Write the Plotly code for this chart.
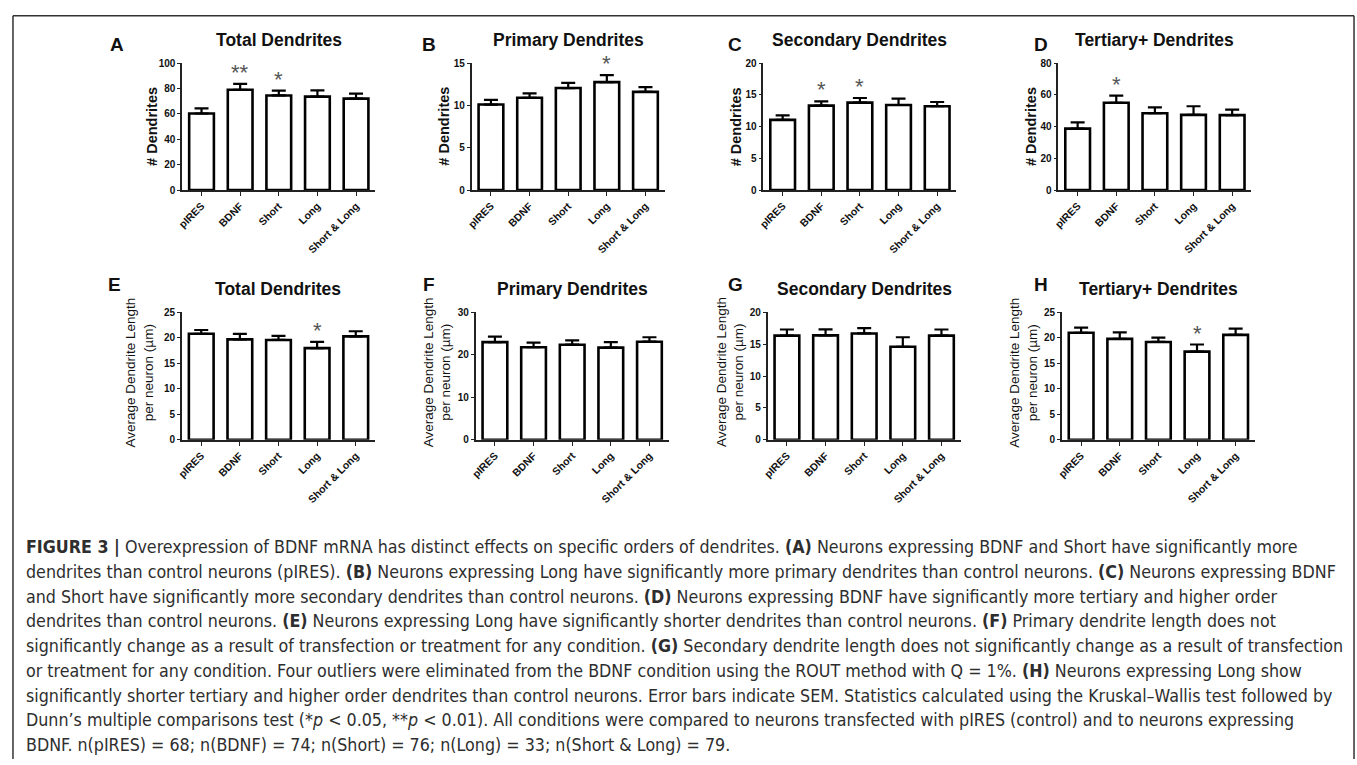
import plotly.graph_objects as go

# ---------------- data ----------------
categories = ["pIRES", "BDNF", "Short", "Long", "Short & Long"]

count_total = [60.3, 79.0, 74.5, 73.6, 72.0]
count_total_sem = [4.0, 4.7, 3.8, 4.9, 4.0]
count_total_stars = ["", "**", "*", "", ""]

count_primary = [10.1, 10.9, 12.05, 12.75, 11.6]
count_primary_sem = [0.56, 0.53, 0.62, 0.82, 0.57]
count_primary_stars = ["", "", "", "*", ""]

count_secondary = [11.05, 13.3, 13.77, 13.4, 13.2]
count_secondary_sem = [0.73, 0.67, 0.73, 1.0, 0.67]
count_secondary_stars = ["", "*", "*", "", ""]

count_tertiary = [38.7, 55.0, 48.4, 47.4, 47.2]
count_tertiary_sem = [3.9, 4.5, 3.7, 5.4, 3.5]
count_tertiary_stars = ["", "*", "", "", ""]

length_total = [20.8, 19.7, 19.6, 18.0, 20.3]
length_total_sem = [0.75, 1.07, 0.8, 1.2, 1.0]
length_total_stars = ["", "", "", "*", ""]

length_primary = [23.0, 21.8, 22.4, 21.7, 23.1]
length_primary_sem = [1.3, 1.1, 1.0, 1.3, 1.05]
length_primary_stars = ["", "", "", "", ""]

length_secondary = [16.35, 16.4, 16.7, 14.6, 16.35]
length_secondary_sem = [0.97, 0.95, 0.83, 1.5, 0.97]
length_secondary_stars = ["", "", "", "", ""]

length_tertiary = [21.0, 19.8, 19.2, 17.3, 20.6]
length_tertiary_sem = [1.0, 1.3, 0.85, 1.4, 1.2]
length_tertiary_stars = ["", "", "", "*", ""]

panel_letters = ["A", "B", "C", "D", "E", "F", "G", "H"]
panel_titles = ["Total Dendrites", "Primary Dendrites", "Secondary Dendrites", "Tertiary+ Dendrites",
                "Total Dendrites", "Primary Dendrites", "Secondary Dendrites", "Tertiary+ Dendrites"]
count_ytitle = "# Dendrites"
length_ytitle = "Average Dendrite Length<br>per neuron (µm)"
y_ranges = [(0, 100, 20), (0, 15, 5), (0, 20, 5), (0, 80, 20),
            (0, 25, 5), (0, 30, 10), (0, 20, 5), (0, 25, 5)]

caption_lines = [
    "<b>FIGURE 3 |</b> Overexpression of BDNF mRNA has distinct effects on specific orders of dendrites. <b>(A)</b> Neurons expressing BDNF and Short have significantly more",
    "dendrites than control neurons (pIRES). <b>(B)</b> Neurons expressing Long have significantly more primary dendrites than control neurons. <b>(C)</b> Neurons expressing BDNF",
    "and Short have significantly more secondary dendrites than control neurons. <b>(D)</b> Neurons expressing BDNF have significantly more tertiary and higher order",
    "dendrites than control neurons. <b>(E)</b> Neurons expressing Long have significantly shorter dendrites than control neurons. <b>(F)</b> Primary dendrite length does not",
    "significantly change as a result of transfection or treatment for any condition. <b>(G)</b> Secondary dendrite length does not significantly change as a result of transfection",
    "or treatment for any condition. Four outliers were eliminated from the BDNF condition using the ROUT method with Q = 1%. <b>(H)</b> Neurons expressing Long show",
    "significantly shorter tertiary and higher order dendrites than control neurons. Error bars indicate SEM. Statistics calculated using the Kruskal–Wallis test followed by",
    "Dunn’s multiple comparisons test (*<i>p</i> &lt; 0.05, **<i>p</i> &lt; 0.01). All conditions were compared to neurons transfected with pIRES (control) and to neurons expressing",
    "BDNF. n(pIRES) = 68; n(BDNF) = 74; n(Short) = 76; n(Long) = 33; n(Short &amp; Long) = 79.",
]

values = [count_total, count_primary, count_secondary, count_tertiary,
          length_total, length_primary, length_secondary, length_tertiary]
sems = [count_total_sem, count_primary_sem, count_secondary_sem, count_tertiary_sem,
        length_total_sem, length_primary_sem, length_secondary_sem, length_tertiary_sem]
stars = [count_total_stars, count_primary_stars, count_secondary_stars, count_tertiary_stars,
         length_total_stars, length_primary_stars, length_secondary_stars, length_tertiary_stars]

# ---------------- layout geometry (pixels) ----------------
W, H = 1357, 765
plot_x = [(177, 371), (467.7, 661.7), (760.7, 954.7), (1057, 1251),
          (176.7, 370.7), (471.7, 665.7), (765, 959), (1060.5, 1254.5)]
row_y = [(58, 187), (311.3, 440.7)]
title_y = [35, 288]
letter_x = [111, 425, 732, 1040, 109, 425, 733, 1040]
letter_y = [39, 283]
ytitle_x = [146, 440, 733, 1029, 134, 433, 727, 1022]

FONT = "Liberation Sans, Arial, Helvetica, sans-serif"
CAP_FONT = "Liberation Sans Narrow, Arial Narrow, DejaVu Sans Condensed, Liberation Sans, sans-serif"


def fx(x):
    return x / W


def fy(y):
    return 1 - y / H


fig = go.Figure()
annotations = []
shapes = []

for i in range(8):
    row = 0 if i < 4 else 1
    k = "" if i == 0 else str(i + 1)
    xa, ya = "x" + k, "y" + k
    fig.add_trace(go.Bar(
        x=categories, y=values[i], width=0.64,
        marker=dict(color="white", line=dict(color="black", width=2.6)),
        error_y=dict(type="data", array=sems[i], arrayminus=[0] * len(sems[i]), symmetric=False,
                     color="black", thickness=2.2, width=7),
        xaxis=xa, yaxis=ya, showlegend=False, hoverinfo="skip",
    ))
    x0, x1 = plot_x[i]
    yt, yb = row_y[row]
    r0, r1, dt = y_ranges[i]
    fig.update_layout(**{
        "xaxis" + k: dict(domain=[fx(x0), fx(x1)], anchor=ya, type="category", range=[-0.5, 4.5],
                          showline=True, linecolor="#222", linewidth=1.6, ticks="outside", ticklen=4,
                          tickwidth=1.4, tickcolor="#222", tickangle=-45, showgrid=False, zeroline=False,
                          tickfont=dict(family=FONT, size=10.5, color="#111", weight="bold"), fixedrange=True),
        "yaxis" + k: dict(domain=[fy(yb), fy(yt)], anchor=xa, range=[r0, r1], dtick=dt, tick0=0,
                          showline=True, linecolor="#222", linewidth=1.6, ticks="outside", ticklen=3,
                          tickwidth=1.4, tickcolor="#222", showgrid=False, zeroline=False,
                          tickfont=dict(family=FONT, size=10, color="#111", weight="bold"), fixedrange=True),
    })
    # stars
    for c, v, s, st in zip(categories, values[i], sems[i], stars[i]):
        if st:
            annotations.append(dict(x=c, y=v + s, xref=xa, yref=ya, text=st, showarrow=False,
                                    yanchor="bottom", yshift=-3,
                                    font=dict(family=FONT, size=22, color="#555")))
    # title
    annotations.append(dict(x=fx((x0 + x1) / 2), y=fy(title_y[row]), xref="paper", yref="paper",
                            text="<b>" + panel_titles[i] + "</b>", showarrow=False,
                            xanchor="center", yanchor="middle",
                            font=dict(family=FONT, size=17.5, color="#111")))
    # letter
    annotations.append(dict(x=fx(letter_x[i]), y=fy(letter_y[row]), xref="paper", yref="paper",
                            text="<b>" + panel_letters[i] + "</b>", showarrow=False,
                            xanchor="center", yanchor="middle",
                            font=dict(family=FONT, size=19, color="#111")))
    # y title
    if row == 0:
        annotations.append(dict(x=fx(ytitle_x[i]), y=fy((yt + yb) / 2), xref="paper", yref="paper",
                                text="<b>" + count_ytitle + "</b>", showarrow=False, textangle=-90,
                                xanchor="center", yanchor="middle",
                                font=dict(family=FONT, size=14.5, color="#111")))
    else:
        annotations.append(dict(x=fx(ytitle_x[i]), y=fy((yt + yb) / 2 - 4), xref="paper", yref="paper",
                                text=length_ytitle, showarrow=False, textangle=-90,
                                xanchor="center", yanchor="middle",
                                font=dict(family=FONT, size=13.5, color="#111")))

# caption
cap_y0, cap_dy = 550, 25.1
for j, line in enumerate(caption_lines):
    annotations.append(dict(x=fx(18), y=fy(cap_y0 + j * cap_dy), xref="paper", yref="paper",
                            text=line, showarrow=False, xanchor="left", yanchor="middle",
                            font=dict(family=CAP_FONT, size=17.7, color="#2e2e2e")))

# frame lines
frame = dict(type="line", xref="paper", yref="paper", line=dict(color="#333", width=1.5))
shapes.append(dict(frame, x0=fx(7), x1=fx(1354), y0=fy(10), y1=fy(10)))
shapes.append(dict(frame, x0=fx(7), x1=fx(7), y0=fy(10), y1=0))
shapes.append(dict(frame, x0=fx(1354), x1=fx(1354), y0=fy(10), y1=0))

fig.update_layout(
    width=W, height=H, margin=dict(l=0, r=0, t=0, b=0),
    paper_bgcolor="white", plot_bgcolor="white",
    font=dict(family=FONT, color="#111"),
    annotations=annotations, shapes=shapes, bargap=0.36,
)

fig.write_html("out.html", config={"displayModeBar": False},
               post_script="document.body.style.margin='0px';document.body.style.overflow='hidden';")
